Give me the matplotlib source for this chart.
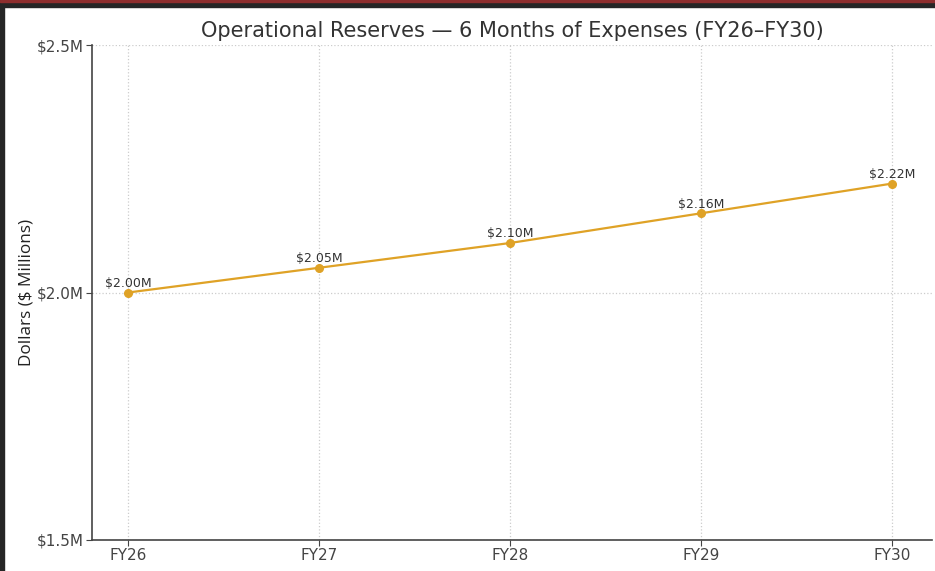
import matplotlib
matplotlib.use("Agg")
import matplotlib.pyplot as plt
from matplotlib.patches import Rectangle

years = ["FY26", "FY27", "FY28", "FY29", "FY30"]
reserves = [2.00, 2.05, 2.10, 2.16, 2.22]
y_ticks = [1.5, 2.0, 2.5]
y_tick_labels = ["$1.5M", "$2.0M", "$2.5M"]

line_color = "#dfa226"
text_color = "#333333"

fig = plt.figure(figsize=(9.35, 5.71), dpi=100)
ax = fig.add_axes([92 / 935, 31 / 571, 840 / 935, 495 / 571])

x = list(range(len(years)))
ax.plot(x, reserves, color=line_color, linewidth=1.6, marker="o", markersize=5.5, zorder=3)

for xi, v in zip(x, reserves):
    ax.annotate(f"${v:.2f}M", (xi, v), xytext=(0, 2), textcoords="offset points",
                ha="center", va="bottom", fontsize=9, color=text_color)

ax.set_xlim(-0.19, 4.21)
ax.set_ylim(1.5, 2.5)
ax.set_xticks(x)
ax.set_xticklabels(years, fontsize=11, color=text_color)
ax.set_yticks(y_ticks)
ax.set_yticklabels(y_tick_labels, fontsize=11, color=text_color)
ax.set_ylabel("Dollars ($ Millions)", fontsize=12.3, color="#222222",
              family=["Open Sans", "DejaVu Sans"])
ax.yaxis.set_label_coords(-0.068, 0.5)
ax.set_title("Operational Reserves \u2014 6 Months of Expenses (FY26\u2013FY30)",
             fontsize=15, color=text_color, pad=6)

ax.grid(True, linestyle=":", color="#cccccc", linewidth=0.9)
ax.set_axisbelow(True)
for side in ["top", "right"]:
    ax.spines[side].set_visible(False)
for side in ["left", "bottom"]:
    ax.spines[side].set_color("#444444")
    ax.spines[side].set_linewidth(1.2)
ax.tick_params(colors="#444444", length=4, pad=2)

# screenshot frame: dark strip on top/left with a red line at the very top
fig.patches.append(Rectangle((0, 1 - 7 / 571), 1, 7 / 571, transform=fig.transFigure,
                             color="#262626", zorder=10))
fig.patches.append(Rectangle((0, 1 - 2 / 571), 1, 2 / 571, transform=fig.transFigure,
                             color="#8e2e2e", zorder=11))
fig.patches.append(Rectangle((0, 0), 4 / 935, 1, transform=fig.transFigure,
                             color="#262626", zorder=10))

fig.savefig("out.png", dpi=100)
